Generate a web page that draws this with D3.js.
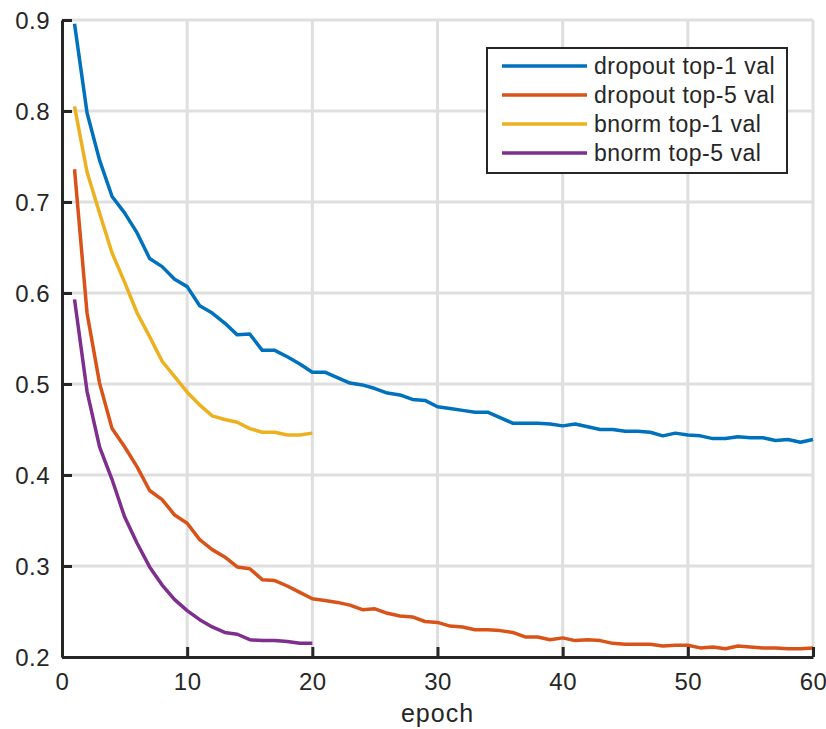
<!DOCTYPE html>
<html>
<head>
<meta charset="utf-8">
<script src="https://cdn.jsdelivr.net/npm/d3@7"></script>
<style>
  body { margin: 0; background: #fff; }
  svg text { font-family: "Liberation Sans", Arial, Helvetica, sans-serif; fill: #262626; }
</style>
</head>
<body>
<script>
// chart size matches the window
var width = 826,
    height = 729;

var margin = {top: 20, right: 13, bottom: 72, left: 62};
var innerW = width - margin.left - margin.right,
    innerH = height - margin.top - margin.bottom;

// data (validation error per epoch)
var dropoutTop1 = [0.896, 0.798, 0.746, 0.706, 0.688, 0.666, 0.638, 0.629, 0.615, 0.607,
  0.586, 0.578, 0.567, 0.554, 0.555, 0.537, 0.537, 0.530, 0.522, 0.513,
  0.513, 0.507, 0.501, 0.499, 0.495, 0.490, 0.488, 0.483, 0.482, 0.475,
  0.473, 0.471, 0.469, 0.469, 0.463, 0.457, 0.457, 0.457, 0.456, 0.454,
  0.456, 0.453, 0.450, 0.450, 0.448, 0.448, 0.447, 0.443, 0.446, 0.444,
  0.443, 0.440, 0.440, 0.442, 0.441, 0.441, 0.438, 0.439, 0.436, 0.439];

var dropoutTop5 = [0.736, 0.578, 0.501, 0.451, 0.431, 0.409, 0.383, 0.373, 0.356, 0.347,
  0.329, 0.318, 0.310, 0.299, 0.297, 0.285, 0.284, 0.278, 0.271, 0.264,
  0.262, 0.260, 0.257, 0.252, 0.253, 0.248, 0.245, 0.244, 0.239, 0.238,
  0.234, 0.233, 0.230, 0.230, 0.229, 0.227, 0.222, 0.222, 0.219, 0.221,
  0.218, 0.219, 0.218, 0.215, 0.214, 0.214, 0.214, 0.212, 0.213, 0.213,
  0.210, 0.211, 0.209, 0.212, 0.211, 0.210, 0.210, 0.209, 0.209, 0.210];

var bnormTop1 = [0.805, 0.733, 0.688, 0.644, 0.612, 0.578, 0.552, 0.525, 0.508, 0.491,
  0.477, 0.465, 0.461, 0.458, 0.451, 0.447, 0.447, 0.444, 0.444, 0.446];

var bnormTop5 = [0.593, 0.492, 0.431, 0.395, 0.354, 0.325, 0.299, 0.279, 0.263, 0.251,
  0.241, 0.233, 0.227, 0.225, 0.219, 0.218, 0.218, 0.217, 0.215, 0.215];

var seriesNames = ['dropout top-1 val', 'dropout top-5 val', 'bnorm top-1 val', 'bnorm top-5 val'];
var seriesValues = [dropoutTop1, dropoutTop5, bnormTop1, bnormTop5];
var seriesColors = ['#0072BD', '#D95319', '#EDB120', '#7E2F8E'];

var xTicks = [0, 10, 20, 30, 40, 50, 60];
var yTicks = [0.2, 0.3, 0.4, 0.5, 0.6, 0.7, 0.8, 0.9];

var svg = d3.select('body')
  .append('svg')
  .attr('width', width)
  .attr('height', height);

var g = svg.append('g')
  .attr('transform', 'translate(' + margin.left + ',' + margin.top + ')');

var x = d3.scaleLinear().domain([0, 60]).range([0, innerW]);
var y = d3.scaleLinear().domain([0.2, 0.9]).range([innerH, 0]);

// grid lines
g.append('g')
  .selectAll('line')
  .data(xTicks.slice(1))
  .enter().append('line')
  .attr('x1', function(d) { return x(d); })
  .attr('x2', function(d) { return x(d); })
  .attr('y1', 0)
  .attr('y2', innerH)
  .attr('stroke', '#dfdfdf')
  .attr('stroke-width', 3);

g.append('g')
  .selectAll('line')
  .data(yTicks.slice(1))
  .enter().append('line')
  .attr('x1', 0)
  .attr('x2', innerW)
  .attr('y1', function(d) { return y(d); })
  .attr('y2', function(d) { return y(d); })
  .attr('stroke', '#dfdfdf')
  .attr('stroke-width', 3);

// data lines
var line = d3.line()
  .x(function(d, i) { return x(i + 1); })
  .y(function(d) { return y(d); });

g.selectAll('path.series')
  .data(seriesValues)
  .enter().append('path')
  .attr('class', 'series')
  .attr('d', line)
  .attr('fill', 'none')
  .attr('stroke', function(d, i) { return seriesColors[i]; })
  .attr('stroke-width', 3.5)
  .attr('stroke-linejoin', 'round');

// axes (ticks point inward, MATLAB style)
var xAxis = d3.axisBottom(x).tickValues(xTicks).tickSizeInner(-10).tickSizeOuter(0)
  .tickPadding(16).tickFormat(d3.format('d'));
var yAxis = d3.axisLeft(y).tickValues(yTicks).tickSizeInner(-10).tickSizeOuter(0)
  .tickPadding(12).tickFormat(d3.format('.1f'));

var gx = g.append('g')
  .attr('transform', 'translate(0,' + innerH + ')')
  .call(xAxis);
var gy = g.append('g').call(yAxis);

[gx, gy].forEach(function(ax) {
  ax.select('.domain').attr('stroke', '#262626').attr('stroke-width', 3);
  ax.selectAll('.tick line').attr('stroke', '#262626').attr('stroke-width', 3);
  ax.selectAll('.tick text')
    .attr('fill', '#262626')
    .style('font-size', '24px')
    .style('letter-spacing', '0.5px')
    .style('font-family', '"Liberation Sans", Arial, sans-serif');
});
gy.selectAll('.tick text').attr('dy', '0.36em');

// x axis label
svg.append('text')
  .attr('x', margin.left + innerW / 2)
  .attr('y', 722)
  .attr('text-anchor', 'middle')
  .style('font-size', '25px')
  .style('letter-spacing', '1px')
  .text('epoch');

// legend
var legend = svg.append('g').attr('transform', 'translate(487,48)');
legend.append('rect')
  .attr('width', 300)
  .attr('height', 125)
  .attr('fill', '#fff')
  .attr('stroke', '#262626')
  .attr('stroke-width', 2);

var rows = legend.selectAll('g.row')
  .data(seriesNames)
  .enter().append('g')
  .attr('class', 'row')
  .attr('transform', function(d, i) { return 'translate(0,' + (18 + i * 29) + ')'; });

rows.append('line')
  .attr('x1', 15).attr('x2', 100)
  .attr('y1', 0).attr('y2', 0)
  .attr('stroke', function(d, i) { return seriesColors[i]; })
  .attr('stroke-width', 3.5);

rows.append('text')
  .attr('x', 107)
  .attr('y', 0)
  .attr('dy', '0.36em')
  .style('font-size', '23px')
  .style('letter-spacing', '0.5px')
  .attr('fill', '#000')
  .text(function(d) { return d; });
</script>
</body>
</html>
